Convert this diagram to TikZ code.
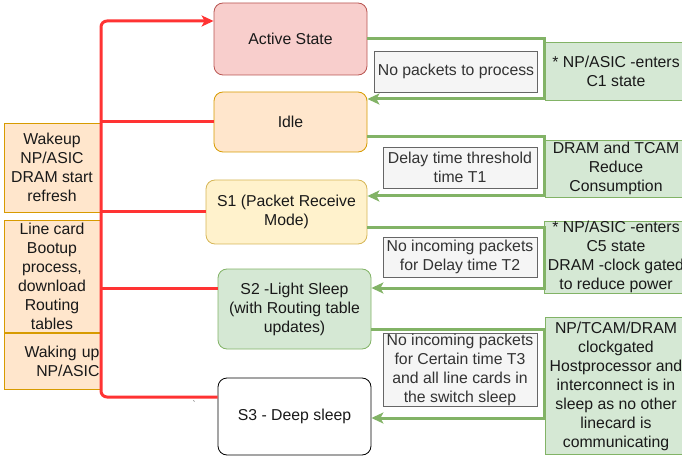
\documentclass[tikz,border=0pt]{standalone}
\usepackage{fontspec}
\setmainfont{Liberation Sans}
\usepackage{xcolor}
\usetikzlibrary{arrows.meta,positioning,calc}

\definecolor{activefill}{HTML}{F8CECC}
\definecolor{activedraw}{HTML}{B85450}
\definecolor{idlefill}{HTML}{FFE6CC}
\definecolor{idledraw}{HTML}{D79B00}
\definecolor{sonefill}{HTML}{FFF2CC}
\definecolor{sonedraw}{HTML}{D6B656}
\definecolor{greenfill}{HTML}{D5E8D4}
\definecolor{greendraw}{HTML}{82B366}
\definecolor{condfill}{HTML}{F5F5F5}
\definecolor{conddraw}{HTML}{666666}
\definecolor{condtext}{HTML}{333333}
\definecolor{wakered}{HTML}{FF3333}

\begin{document}
\begin{tikzpicture}[
    x=1pt, y=-1pt,
    every node/.style={font=\fontsize{15.8}{19}\selectfont, text=black!90},
    state/.style={
        rectangle,
        rounded corners=9pt,
        minimum width=153pt,
        align=center,
        inner ysep=0pt,
        line width=0.8pt
    },
    wakebox/.style={
        rectangle,
        draw=idledraw,
        fill=idlefill,
        minimum width=96pt,
        align=center,
        inner ysep=0pt,
        line width=0.8pt
    },
    notebox/.style={
        rectangle,
        draw=greendraw,
        fill=greenfill,
        minimum width=142pt,
        align=center,
        inner ysep=0pt,
        line width=0.8pt
    },
    condbox/.style={
        rectangle,
        draw=conddraw,
        fill=condfill,
        text=condtext,
        minimum width=154pt,
        align=center,
        inner ysep=0pt,
        line width=0.8pt
    },
    wakearrow/.style={
        -{Stealth[length=12pt,width=11pt,inset=3pt]},
        line width=3pt,
        draw=wakered,
        rounded corners=6pt
    },
    wakeline/.style={
        line width=3pt,
        draw=wakered
    },
    sleeparrow/.style={
        -{Stealth[length=12pt,width=11pt,inset=3pt]},
        line width=3pt,
        draw=greendraw
    }
]
\useasboundingbox (0,0) rectangle (682,462);

% Wake-up actions on the left
\node[wakebox, minimum height=89pt] (wakeup) at (52,167.5) {Wakeup\\NP/ASIC\\DRAM start\\refresh};
\node[wakebox, minimum height=112pt] (bootup) at (52,276) {Line card\\Bootup\\process,\\download\\Routing\\tables};
\node[wakebox, minimum height=56pt, text width=95pt, inner xsep=0.5pt, align=right] (wakingup) at (52,361) {Waking up\\NP/ASIC};

% Power states
\node[state, draw=activedraw, fill=activefill, minimum height=72pt] (active) at (290.5,39) {Active State};
\node[state, draw=idledraw, fill=idlefill, minimum height=60pt] (idle) at (290.5,122) {Idle};
\node[state, draw=sonedraw, fill=sonefill, minimum width=161pt, minimum height=64pt] (sone) at (286.5,212) {S1 (Packet Receive\\Mode)};
\node[state, draw=greendraw, fill=greenfill, minimum height=80pt] (stwo) at (294.5,309) {S2 -Light Sleep\\(with Routing table\\updates)};
\node[state, draw=black, fill=white, minimum height=77pt] (sthree) at (294.5,416.5) {S3 - Deep sleep};
\node[text=black!70, font=\small] (mark) at (194,404) {\textasciigrave};

% Transition conditions
\node[condbox, minimum width=163pt, minimum height=41pt] (cond1) at (456,71.5) {No packets to process};
\node[condbox, minimum height=41pt] (cond2) at (460,167.5) {Delay time threshold\\time T1};
\node[condbox, minimum height=40pt] (cond3) at (460,257) {No incoming packets\\for Delay time T2};
\node[condbox, minimum height=73pt] (cond4) at (460,369.5) {No incoming packets\\for Certain time T3\\and all line cards in\\the switch sleep};

% Effects of each state
\node[notebox, minimum height=58pt] (cone) at (616,71) {* NP/ASIC -enters\\C1 state};
\node[notebox, minimum height=57pt] (reduce) at (616,168.5) {DRAM and TCAM\\Reduce\\Consumption};
\node[notebox, minimum height=72pt] (cfive) at (616,257) {* NP/ASIC -enters\\C5 state\\DRAM -clock gated\\to reduce power};
\node[notebox, minimum height=137pt] (gated) at (616,386) {NP/TCAM/DRAM\\clockgated\\Hostprocessor and\\interconnect is in\\sleep as no other\\linecard is\\communicating};

% Going to sleep
\coordinate (out2) at ([yshift=-15pt]idle.east);
\coordinate (out3) at ([yshift=-16pt]sone.east);
\coordinate (out4) at ([yshift=-20pt]stwo.east);
\draw[sleeparrow] (active.east) -- (active.east -| cone.west) |- ([yshift=23pt]idle.east);
\draw[sleeparrow] (out2) -- (out2 -| reduce.west) |- ([yshift=16pt]sone.east);
\draw[sleeparrow] (out3) -- (out3 -| cfive.west) |- ([yshift=21pt]stwo.east);
\draw[sleeparrow] (out4) -- (out4 -| gated.west) |- ([yshift=-1.5pt]sthree.east);

% Waking up
\coordinate (trunk) at (101,21);
\coordinate (in2) at ([yshift=21pt]stwo.west);
\draw[wakearrow] ([yshift=19.5pt]sthree.west) -| (trunk) -- ([yshift=18pt]active.west);
\draw[wakeline] (trunk |- idle.west) -- (idle.west);
\draw[wakeline] (trunk |- sone.west) -- (sone.west);
\draw[wakeline] (trunk |- in2) -- (in2);

\end{tikzpicture}
\end{document}
